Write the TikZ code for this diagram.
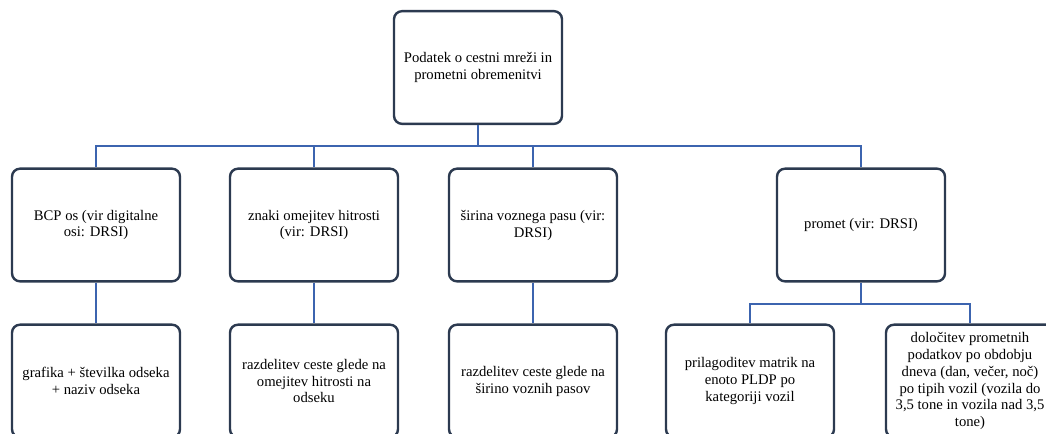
\documentclass[tikz,border=0pt]{standalone}
\usepackage{fontspec}
\setmainfont{Liberation Serif}
\definecolor{boxline}{RGB}{44,58,80}
\definecolor{linkblue}{RGB}{60,100,175}
\begin{document}
\begin{tikzpicture}[x=0.75pt, y=-0.75pt,
  box/.style={draw=boxline, line width=1.8pt, rounded corners=6pt, fill=white,
    minimum width=126pt, minimum height=84.5pt, align=center, inner sep=2pt,
    font=\fontsize{11}{12.7}\selectfont},
  link/.style={draw=linkblue, line width=2pt}]
\clip (0,0) rectangle (1046,433);
\node[box](top) at (478,67.5){Podatek o cestni mreži in\\prometni obremenitvi};
\node[box](bcp) at (96,225){BCP os (vir digitalne\\osi: DRSI)};
\node[box](znaki) at (314,225){znaki omejitev hitrosti\\(vir: DRSI)};
\node[box](sirina) at (533,225){širina voznega pasu (vir:\\DRSI)};
\node[box](promet) at (861,225){promet (vir: DRSI)};
\node[box](grafika) at (96,381){grafika + številka odseka\\+ naziv odseka};
\node[box](omejitev) at (314,381){razdelitev ceste glede na\\omejitev hitrosti na\\odseku};
\node[box](pasovi) at (533,381){razdelitev ceste glede na\\širino voznih pasov};
\node[box](matrike) at (750,381){prilagoditev matrik na\\enoto PLDP po\\kategoriji vozil};
\node[box](obdobja) at (970,381){določitev prometnih\\podatkov po obdobju\\dneva (dan, večer, noč)\\po tipih vozil (vozila do\\3,5 tone in vozila nad 3,5\\tone)};
\coordinate(bus) at (478,146);
\coordinate(bus2) at (861,304);
\draw[link](top.south)--(bus);
\foreach \n in {bcp,znaki,sirina,promet} \draw[link](bus)-|(\n.north);
\draw[link](bcp.south)--(grafika.north);
\draw[link](znaki.south)--(omejitev.north);
\draw[link](sirina.south)--(pasovi.north);
\draw[link](promet.south)--(bus2);
\foreach \n in {matrike,obdobja} \draw[link](bus2)-|(\n.north);
\end{tikzpicture}
\end{document}
